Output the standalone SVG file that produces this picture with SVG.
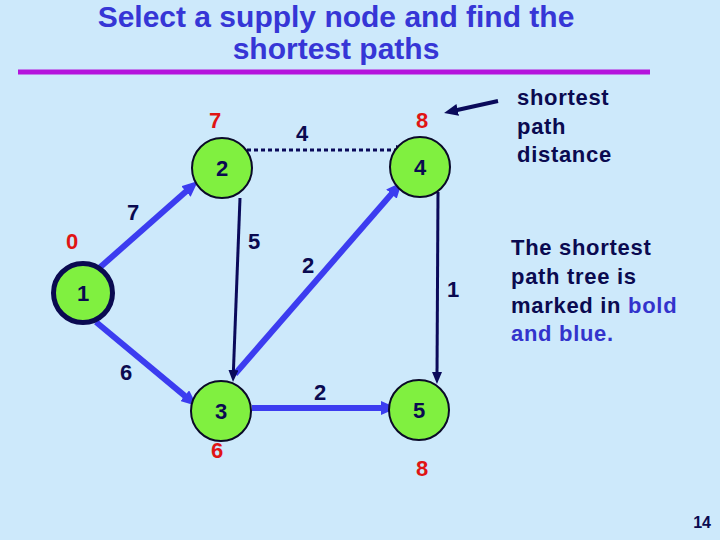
<svg xmlns="http://www.w3.org/2000/svg" width="720" height="540" viewBox="0 0 720 540">
<style>
.title{font-family:"Liberation Sans",Arial,sans-serif;font-weight:bold;font-size:30px;fill:#3636d6;text-anchor:middle}
.num{font-family:"Liberation Sans",Arial,sans-serif;font-weight:bold;font-size:22px;fill:#0a0a50;text-anchor:middle}
.red{font-family:"Liberation Sans",Arial,sans-serif;font-weight:bold;font-size:22px;fill:#e01414;text-anchor:middle}
.note{font-family:"Liberation Sans",Arial,sans-serif;font-weight:bold;font-size:22px;fill:#0a0a50;letter-spacing:0.7px}
.node{fill:#80f040;stroke:#0a0a28;stroke-width:2}
.src{fill:#80f040;stroke:#0a0a50;stroke-width:5}
.blue{stroke:#3c3cf0;stroke-width:6;fill:none}
.navy{stroke:#0a0a5a;stroke-width:3;fill:none}
</style>
<defs>
<marker id="ab" markerUnits="userSpaceOnUse" markerWidth="16" markerHeight="14" refX="6" refY="7" orient="auto">
<path d="M0,0 L16,7 L0,14 z" fill="#3c3cf0"/>
</marker>
<marker id="an" markerUnits="userSpaceOnUse" markerWidth="12" markerHeight="10" refX="4" refY="5" orient="auto">
<path d="M0,0 L12,5 L0,10 z" fill="#0a0a5a"/>
</marker>
<marker id="an2" markerUnits="userSpaceOnUse" markerWidth="14" markerHeight="12" refX="4" refY="6" orient="auto">
<path d="M0,0 L14,6 L0,12 z" fill="#0a0a5a"/>
</marker>
</defs>
<rect x="0" y="0" width="720" height="540" fill="#cde9fb"/>
<g id="title">
<text class="title" x="336" y="27">Select a supply node and find the</text>
<text class="title" x="336" y="59">shortest paths</text>
<line x1="18" y1="72" x2="650" y2="72" stroke="#b414dc" stroke-width="5"/>
</g>
<g id="connectors">
<line class="blue" x1="97" y1="270" x2="190.5" y2="187.6" marker-end="url(#ab)"/>
<line class="blue" x1="96" y1="322" x2="189.3" y2="399.6" marker-end="url(#ab)"/>
<line class="blue" x1="235" y1="374" x2="395.4" y2="189.5" marker-end="url(#ab)"/>
<line class="blue" x1="252" y1="408" x2="387" y2="408" marker-end="url(#ab)"/>
<line class="navy" x1="240" y1="198" x2="233.3" y2="374" marker-end="url(#an)"/>
<line class="navy" x1="438" y1="192" x2="437" y2="376" marker-end="url(#an)"/>
<line class="navy" x1="247" y1="150" x2="400" y2="150" stroke-width="4" stroke-dasharray="4,3" marker-end="url(#an)"/>
<line x1="498" y1="101" x2="453.8" y2="110.8" stroke="#0a0a5a" stroke-width="4" marker-end="url(#an2)"/>
</g>
<g id="edge-labels">
<text class="num" x="302" y="141">4</text>
<text class="num" x="133" y="220">7</text>
<text class="num" x="254" y="249">5</text>
<text class="num" x="308" y="273">2</text>
<text class="num" x="453" y="297">1</text>
<text class="num" x="126" y="380">6</text>
<text class="num" x="320" y="400">2</text>
</g>
<g id="node1">
<circle class="src" cx="83" cy="293" r="29.5"/>
<text class="num" x="83" y="301">1</text>
<text class="red" x="72" y="249">0</text>
</g>
<g id="node2">
<circle class="node" cx="222" cy="168" r="30"/>
<text class="num" x="222" y="176">2</text>
<text class="red" x="215" y="128">7</text>
</g>
<g id="node4">
<circle class="node" cx="420" cy="167" r="30"/>
<text class="num" x="420" y="175">4</text>
<text class="red" x="422" y="128">8</text>
</g>
<g id="node3">
<circle class="node" cx="221" cy="411" r="30"/>
<text class="num" x="221" y="419">3</text>
<text class="red" x="217" y="458">6</text>
</g>
<g id="node5">
<circle class="node" cx="419" cy="410" r="30"/>
<text class="num" x="419" y="418">5</text>
<text class="red" x="422" y="476">8</text>
</g>
<g id="notes">
<text class="note" x="517" y="105">shortest</text>
<text class="note" x="517" y="134">path</text>
<text class="note" x="517" y="162">distance</text>
<text class="note" x="511" y="255">The shortest</text>
<text class="note" x="511" y="284">path tree is</text>
<text class="note" x="511" y="313">marked in <tspan fill="#3333cc">bold</tspan></text>
<text class="note" x="511" y="341" style="fill:#3333cc">and blue.</text>
<text x="711" y="528" font-family="Liberation Sans,Arial,sans-serif" font-weight="bold" font-size="16" fill="#0a0a50" text-anchor="end">14</text>
</g>
</svg>
